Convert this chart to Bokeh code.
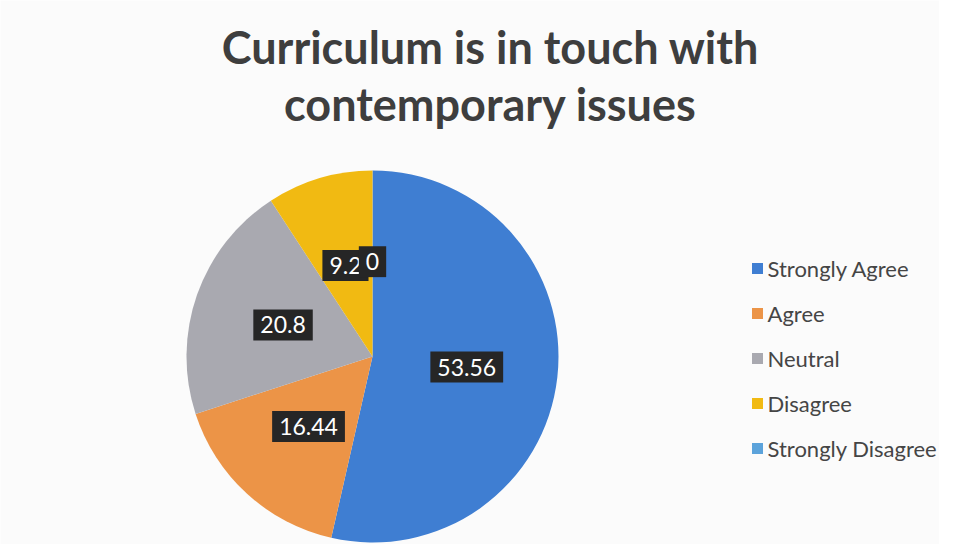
import math
from bokeh.plotting import figure
from bokeh.models import Range1d, ColumnDataSource, CDSView, BooleanFilter
from bokeh.core.properties import value
from bokeh.embed import file_html
from bokeh.resources import INLINE

categories = ["Strongly Agree", "Agree", "Neutral", "Disagree", "Strongly Disagree"]
values = [53.56, 16.44, 20.8, 9.2, 0]
labels = ["53.56", "16.44", "20.8", "9.2", "0"]
colors = ["#3F7ED2", "#EC9447", "#A9A9B0", "#F1BA12", "#5CA3DB"]
title_lines = ["Curriculum is in touch with", "contemporary issues"]

W, H = 939, 544
p = figure(width=W, height=H, output_backend="svg", toolbar_location=None,
           x_range=Range1d(0, W), y_range=Range1d(0, H), min_border=0)
p.axis.visible = False
p.grid.visible = False
p.outline_line_color = None
p.background_fill_color = "#FBFBFB"
p.border_fill_color = "#FBFBFB"

cx, cy, r = 372, H - 356, 186
total = sum(values)
starts, ends, lx, ly = [], [], [], []
cum = 0.0
for v in values:
    a0 = math.pi / 2 - 2 * math.pi * cum / total
    a1 = math.pi / 2 - 2 * math.pi * (cum + v) / total
    starts.append(a0)
    ends.append(a1)
    mid = (a0 + a1) / 2
    lx.append(cx + 0.51 * r * math.cos(mid))
    ly.append(cy + 0.51 * r * math.sin(mid))
    cum += v

src = ColumnDataSource(dict(cat=categories, val=values, start=starts, end=ends,
                            color=colors, lab=labels, lx=lx, ly=ly))
view = CDSView(filter=BooleanFilter([v > 0 for v in values]))
p.wedge(x=cx, y=cy, radius=r, start_angle="start", end_angle="end", direction="clock",
        fill_color="color", line_color=None, source=src, view=view)

p.text(x="lx", y="ly", text="lab", source=src, text_color="white",
       text_font=value("Lato"), text_font_size="23px", text_align="center",
       text_baseline="middle", background_fill_color="#262626", padding=7)

# legend
leg_y = [H - 268 - 45 * i for i in range(len(categories))]
lsrc = ColumnDataSource(dict(cat=categories, color=colors, y=leg_y,
                             x=[757] * len(categories), tx=[767] * len(categories)))
p.scatter(x="x", y="y", marker="square", size=11, fill_color="color",
          line_color=None, source=lsrc)
p.text(x="tx", y="y", text="cat", source=lsrc, text_color="#454545",
       text_font=value("Lato"), text_font_size="22px", text_baseline="middle")

# title
tsrc = ColumnDataSource(dict(t=title_lines, x=[490, 490], y=[H - 46, H - 103]))
p.text(x="x", y="y", text="t", source=tsrc, text_color="#3E3E3E",
       text_font=value("Lato"), text_font_style="bold", text_font_size="45px",
       text_align="center", text_baseline="middle")

open("out.html", "w").write(file_html(p, INLINE))
